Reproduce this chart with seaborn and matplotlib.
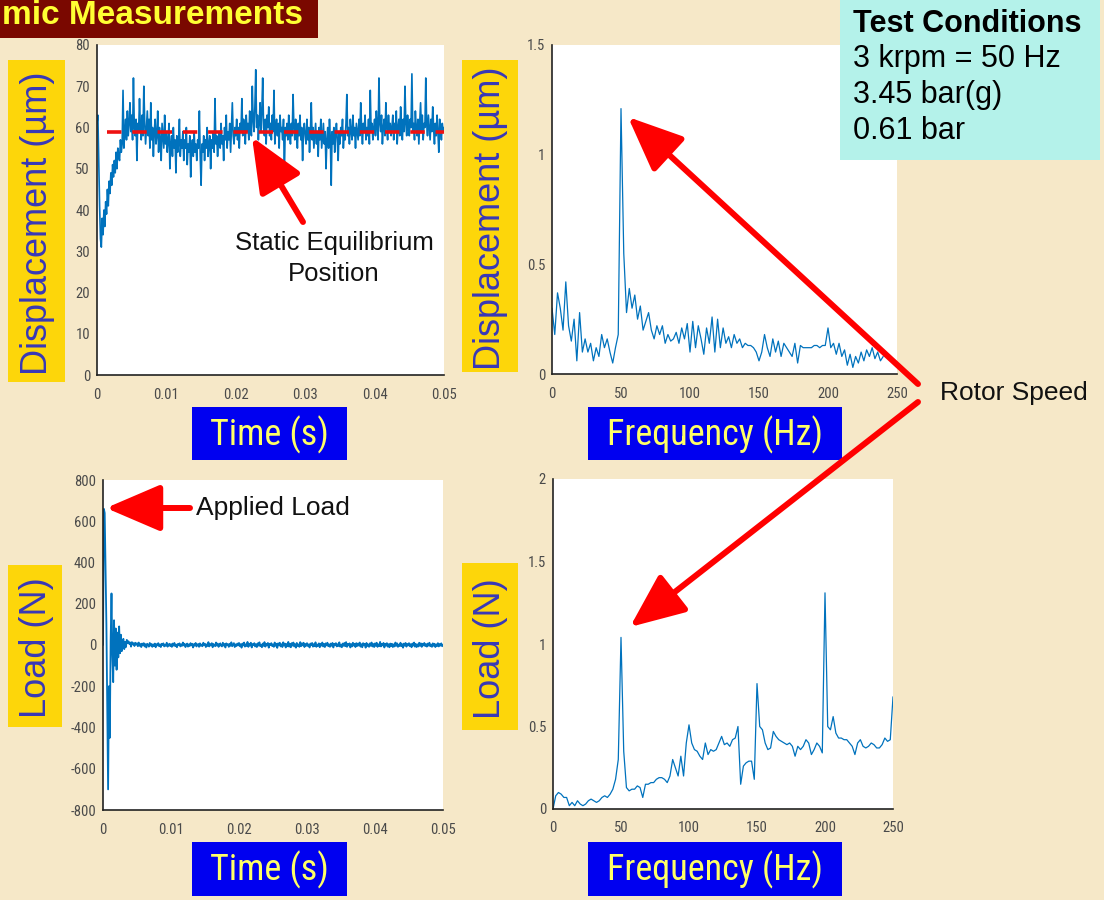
import matplotlib
matplotlib.use("Agg")
import matplotlib.pyplot as plt
import seaborn as sns
import numpy as np
from matplotlib.patches import Rectangle
from matplotlib import font_manager
from matplotlib.font_manager import FontProperties

sns.set_theme(style="white")
plt.rcParams["font.family"] = ["Liberation Sans", "DejaVu Sans"]


def _condensed_font_file():
    """Pick an installed narrow sans-serif face, if any, for the slide labels."""
    found = []
    for f in font_manager.fontManager.ttflist:
        key = (f.name + " " + f.fname).lower()
        if ("narrow" in key or "condensed" in key) and f.style == "normal" \
                and f.weight in (400, "normal", "regular", "book"):
            rank = 0 if "liberation" in key else 1 if "arial" in key else \
                2 if "roboto" in key else 3 if "open" in key else 4
            if "mono" in key or "serif" in key and "sans" not in key:
                continue
            found.append((rank, f.fname))
    found.sort()
    return found[0][1] if found else None


_NARROW_FILE = _condensed_font_file()


def narrow(size):
    if _NARROW_FILE:
        return FontProperties(fname=_NARROW_FILE, size=size)
    return FontProperties(family="Liberation Sans", size=size * 0.9)


# ---------------------------------------------------------------- data
# time base of the recorded signals (s)
dt = 0.000125
time_s = np.arange(401) * dt

# rotor displacement (µm)
displacement_um = [
    61, 63, 52, 41, 33, 31, 38, 34, 40, 36, 42, 39, 45, 41, 47, 44, 49, 46, 51, 48,
    52, 49, 54, 50, 55, 53, 52, 57, 54, 56, 69, 55, 59, 62, 57, 64, 58, 61, 66, 59,
    63, 57, 72, 60, 58, 62, 52, 61, 59, 67, 60, 57, 63, 58, 70, 61, 56, 60, 64, 58,
    62, 55, 66, 57, 60, 53, 59, 62, 56, 58, 64, 54, 60, 57, 52, 61, 58, 55, 63, 56,
    59, 54, 57, 61, 50, 56, 58, 53, 60, 55, 57, 49, 58, 54, 56, 62, 53, 57, 55, 59,
    52, 57, 55, 60, 51, 56, 54, 58, 48, 55, 57, 53, 59, 54, 56, 52, 57, 55, 64, 53,
    46, 56, 54, 58, 52, 57, 55, 60, 53, 56, 58, 50, 57, 55, 59, 54, 67, 56, 58, 53,
    57, 59, 55, 61, 56, 58, 52, 60, 57, 63, 55, 59, 57, 61, 54, 60, 66, 58, 56, 60,
    58, 62, 57, 60, 55, 61, 59, 67, 58, 62, 60, 56, 63, 59, 61, 57, 64, 60, 58, 70,
    62, 59, 65, 74, 60, 63, 57, 61, 66, 59, 64, 72, 60, 58, 62, 56, 63, 60, 65, 58,
    61, 57, 63, 59, 69, 56, 60, 62, 58, 61, 55, 63, 59, 60, 57, 62, 49, 60, 58, 61,
    57, 63, 59, 56, 61, 58, 68, 60, 57, 62, 59, 55, 61, 58, 63, 57, 60, 52, 59, 61,
    58, 56, 62, 57, 60, 54, 59, 66, 57, 60, 55, 58, 61, 56, 59, 53, 60, 57, 62, 55,
    58, 61, 56, 59, 50, 57, 60, 55, 62, 57, 46, 59, 56, 60, 54, 58, 61, 57, 52, 59,
    56, 60, 58, 62, 55, 59, 57, 61, 68, 58, 60, 56, 62, 59, 57, 63, 58, 60, 55, 61,
    59, 57, 62, 58, 66, 60, 56, 61, 59, 63, 57, 60, 58, 62, 56, 69, 59, 61, 57, 60,
    62, 58, 64, 60, 57, 72, 61, 59, 63, 56, 60, 62, 58, 66, 60, 57, 63, 59, 61, 58,
    60, 63, 57, 61, 59, 64, 56, 60, 62, 58, 65, 60, 57, 62, 59, 70, 61, 58, 63, 60,
    58, 62, 60, 73, 59, 61, 57, 64, 60, 58, 62, 56, 61, 66, 59, 63, 57, 61, 60, 72,
    61, 58, 63, 60, 57, 62, 59, 65, 60, 56, 61, 58, 63, 59, 54, 62, 60, 57, 61, 59,
    60,
]
equilibrium_um = 59

# applied load (N)
load_n = [
    0, 660, 640, 380, 100, -300, -700, -200, -450, 20, 250, -50, -180, 120, -100, 80, -120, 60, -60, 90,
    -40, 50, -30, 20, 30, -20, 15, -10, 25, 10, 18, 5, 12, -8, 14, 3, 9, -5, 11, 2,
    8, -6, 12, -4, 5, -10, 7, -2, 9, -7, 4, -12, 6, 1, -8, 10, -3, 5, -9, 3,
    -5, 7, -11, 4, -2, 9, -6, 3, -10, 6, -1, 8, -7, 2, -4, 11, -8, 0, 6, -5,
    4, -9, 7, -3, 10, -6, 2, -11, 5, -1, 8, -7, 3, -4, 12, -2, 6, -10, 1, 7,
    -8, 3, -5, 9, -2, 6, -12, 4, -3, 10, -7, 1, 5, -9, 8, -4, 2, -6, 11, -1,
    6, -10, 3, -5, 14, -7, 4, -2, 9, -11, 5, 0, -6, 12, -3, 7, -9, 2, 8, -4,
    -7, 11, -3, 5, -12, 8, -1, 4, -9, 6, -4, 13, -6, 2, 9, -10, 3, -5, 7, -2,
    10, -6, 4, -13, 7, -2, 12, -8, 3, -5, 15, -9, 6, -3, 11, -12, 5, -1, 9, -7,
    4, -10, 8, -3, 13, -6, 2, -11, 7, -4, 14, -8, 5, -2, 10, -13, 6, -1, 9, -5,
    3, -9, 12, -4, 6, -14, 8, -2, 11, -7, 4, -10, 13, -3, 7, -12, 5, -6, 15, -8,
    6, -11, 9, -3, 12, -7, 4, -13, 10, -5, 3, -9, 14, -6, 8, -2, 11, -10, 5, -4,
    9, -5, 3, -12, 7, -1, 10, -8, 4, -6, 13, -9, 2, -4, 8, -11, 6, -3, 12, -7,
    5, -10, 8, -2, 11, -6, 3, -9, 7, -4, 10, -12, 6, -1, 9, -7, 4, -5, 13, -8,
    2, -11, 7, -4, 10, -6, 14, -9, 5, -2, 8, -12, 4, -7, 11, -3, 6, -10, 9, -5,
    7, -3, 12, -8, 4, -11, 9, -2, 6, -13, 10, -5, 3, -9, 8, -4, 12, -7, 5, -10,
    8, -4, 11, -9, 3, -6, 15, -7, 5, -2, 10, -12, 6, -3, 9, -8, 4, -11, 7, -5,
    6, -10, 3, -7, 12, -4, 8, -9, 2, -5, 11, -6, 4, -13, 7, -3, 10, -8, 5, -2,
    9, -6, 4, -11, 7, -3, 12, -8, 5, -10, 3, -7, 11, -4, 8, -9, 6, -2, 10, -5,
    4, -8, 7, -3, 11, -6, 2, -9, 8, -4, 6, -10, 3, -5, 9, -7, 5, -3, 8, -6,
    0,
]

# displacement amplitude spectrum (µm), 2 Hz bins 0-240 Hz
disp_freq_hz = np.arange(0, 242, 2)
disp_amp_um = [
    0.30, 0.18, 0.37, 0.30, 0.20, 0.42, 0.22, 0.15, 0.25, 0.06,
    0.28, 0.10, 0.16, 0.10, 0.14, 0.06, 0.12, 0.08, 0.18, 0.12,
    0.16, 0.10, 0.05, 0.12, 0.18, 1.21, 0.55, 0.28, 0.39, 0.30,
    0.36, 0.25, 0.31, 0.20, 0.24, 0.28, 0.20, 0.16, 0.22, 0.18,
    0.22, 0.14, 0.18, 0.15, 0.16, 0.19, 0.14, 0.21, 0.16, 0.23,
    0.10, 0.24, 0.12, 0.22, 0.16, 0.09, 0.21, 0.14, 0.26, 0.10,
    0.25, 0.12, 0.21, 0.14, 0.17, 0.12, 0.18, 0.14, 0.16, 0.12,
    0.14, 0.13, 0.13, 0.12, 0.10, 0.06, 0.10, 0.18, 0.12, 0.08,
    0.16, 0.10, 0.15, 0.08, 0.14, 0.12, 0.10, 0.08, 0.14, 0.05,
    0.13, 0.12, 0.12, 0.12, 0.12, 0.13, 0.13, 0.12, 0.13, 0.13,
    0.21, 0.12, 0.14, 0.09, 0.14, 0.08, 0.11, 0.04, 0.09, 0.03,
    0.08, 0.05, 0.10, 0.06, 0.11, 0.08, 0.12, 0.07, 0.10, 0.06,
    0.08,
]

# load amplitude spectrum (N), 2 Hz bins 0-250 Hz
load_freq_hz = np.arange(0, 252, 2)
load_amp_n = [
    0.00, 0.08, 0.10, 0.09, 0.07, 0.07, 0.02, 0.04, 0.02, 0.05,
    0.03, 0.02, 0.03, 0.05, 0.06, 0.05, 0.04, 0.05, 0.07, 0.08,
    0.07, 0.09, 0.12, 0.18, 0.30, 1.04, 0.35, 0.13, 0.11, 0.12,
    0.12, 0.14, 0.13, 0.07, 0.15, 0.15, 0.16, 0.16, 0.18, 0.19,
    0.19, 0.18, 0.16, 0.20, 0.30, 0.25, 0.20, 0.32, 0.20, 0.40,
    0.51, 0.40, 0.36, 0.35, 0.32, 0.30, 0.40, 0.33, 0.36, 0.35,
    0.36, 0.40, 0.44, 0.39, 0.40, 0.38, 0.42, 0.43, 0.50, 0.15,
    0.26, 0.28, 0.29, 0.29, 0.18, 0.76, 0.50, 0.48, 0.40, 0.36,
    0.37, 0.47, 0.44, 0.42, 0.41, 0.40, 0.39, 0.40, 0.38, 0.32,
    0.38, 0.36, 0.38, 0.42, 0.40, 0.33, 0.36, 0.40, 0.38, 0.34,
    1.31, 0.50, 0.48, 0.56, 0.46, 0.43, 0.43, 0.42, 0.42, 0.40,
    0.38, 0.33, 0.40, 0.42, 0.38, 0.37, 0.38, 0.40, 0.39, 0.37,
    0.37, 0.39, 0.43, 0.41, 0.42, 0.68,
]

time_ticks = [0, 0.01, 0.02, 0.03, 0.04, 0.05]
time_ticklabels = ["0", "0.01", "0.02", "0.03", "0.04", "0.05"]
freq_ticks = [0, 50, 100, 150, 200, 250]
freq_ticklabels = ["0", "50", "100", "150", "200", "250"]

# ---------------------------------------------------------------- style
W, H = 1104, 900
BG = "#f6e8c8"
TRACE = "#0072bd"
YELLOW_BOX = "#fdd60a"
YELLOW_TXT = "#3838b8"
BLUE_BOX = "#0000f0"
BLUE_TXT = "#ffff66"

fig = plt.figure(figsize=(W / 100, H / 100), dpi=100, facecolor=BG)


def px_rect(left, top, right, bottom):
    return [left / W, 1 - bottom / H, (right - left) / W, (bottom - top) / H]


def style_axes(ax, xlim, ylim, xticks, xlabels, yticks, ylabels):
    ax.set_facecolor("white")
    ax.set_xlim(*xlim)
    ax.set_ylim(*ylim)
    for side in ("top", "right"):
        ax.spines[side].set_visible(False)
    for side in ("left", "bottom"):
        ax.spines[side].set_color("#222222")
        ax.spines[side].set_linewidth(1.2)
    ax.set_xticks(xticks)
    ax.set_xticklabels(xlabels, fontproperties=narrow(10.5), color="#4a4a4a")
    ax.set_yticks(yticks)
    ax.set_yticklabels(ylabels, fontproperties=narrow(10.5), color="#4a4a4a")
    ax.tick_params(direction="in", length=3, width=1, colors="#222222",
                   labelcolor="#4a4a4a")
    ax.tick_params(axis="x", pad=9)
    ax.tick_params(axis="y", pad=5)
    ax.set_xlabel("")
    ax.set_ylabel("")


# displacement vs time
ax1 = fig.add_axes(px_rect(97, 45, 444, 375))
sns.lineplot(x=time_s, y=displacement_um, ax=ax1, color=TRACE, linewidth=1.2,
             estimator=None)
ax1.hlines(equilibrium_um, 0.0015, 0.05, colors="#ee1111", linestyles=(0, (4, 3)),
           linewidth=2.6, zorder=5)
style_axes(ax1, (0, 0.05), (0, 80), time_ticks, time_ticklabels,
           list(range(0, 90, 10)), [str(v) for v in range(0, 90, 10)])

# displacement spectrum
ax2 = fig.add_axes(px_rect(552, 45, 897, 374))
sns.lineplot(x=disp_freq_hz, y=disp_amp_um, ax=ax2, color=TRACE, linewidth=0.9,
             estimator=None)
style_axes(ax2, (0, 250), (0, 1.5), freq_ticks, freq_ticklabels,
           [0, 0.5, 1, 1.5], ["0", "0.5", "1", "1.5"])

# load vs time
ax3 = fig.add_axes(px_rect(103, 480, 443, 810))
sns.lineplot(x=time_s, y=load_n, ax=ax3, color=TRACE, linewidth=1.3, estimator=None)
style_axes(ax3, (0, 0.05), (-800, 800), time_ticks, time_ticklabels,
           list(range(-800, 1000, 200)), [str(v) for v in range(-800, 1000, 200)])

# load spectrum
ax4 = fig.add_axes(px_rect(553, 479, 893, 809))
sns.lineplot(x=load_freq_hz, y=load_amp_n, ax=ax4, color=TRACE, linewidth=0.9,
             estimator=None)
style_axes(ax4, (0, 250), (0, 2), freq_ticks, freq_ticklabels,
           [0, 0.5, 1, 1.5, 2], ["0", "0.5", "1", "1.5", "2"])

# ---------------------------------------------------------------- slide overlay
ov = fig.add_axes([0, 0, 1, 1], zorder=20)
ov.set_xlim(0, W)
ov.set_ylim(H, 0)
ov.axis("off")
ov.patch.set_alpha(0)


def box(x0, y0, x1, y1, color):
    ov.add_patch(Rectangle((x0, y0), x1 - x0, y1 - y0, facecolor=color,
                           edgecolor="none"))


# title bar
box(0, 0, 318, 38, "#7a0800")
ov.text(2, 15, "mic Measurements", fontsize=24, fontweight="bold", color="#ffff33",
        va="center", ha="left")

# axis labels
for (x0, y0, x1, y1, txt) in [(8, 60, 65, 382, "Displacement (µm)"),
                              (462, 60, 518, 372, "Displacement (µm)"),
                              (8, 565, 62, 727, "Load (N)"),
                              (462, 563, 518, 730, "Load (N)")]:
    box(x0, y0, x1, y1, YELLOW_BOX)
    ov.text((x0 + x1) / 2 + 1, (y0 + y1) / 2 + 2, txt, rotation=90, fontsize=26,
            color=YELLOW_TXT, ha="center", va="center")

for (x0, y0, x1, y1, txt) in [(192, 407, 347, 460, "Time (s)"),
                              (588, 407, 842, 460, "Frequency (Hz)"),
                              (192, 842, 347, 896, "Time (s)"),
                              (588, 842, 842, 896, "Frequency (Hz)")]:
    box(x0, y0, x1, y1, BLUE_BOX)
    ov.text((x0 + x1) / 2, (y0 + y1) / 2 + 1, txt, fontproperties=narrow(26),
            color=BLUE_TXT, ha="center", va="center")

# test conditions
box(840, 0, 1100, 160, "#b4f2ea")
ov.text(853, 24, "Test Conditions", fontsize=22, fontweight="bold", color="black",
        va="center")
for y, txt in [(59, "3 krpm = 50 Hz"), (95, "3.45 bar(g)"), (131, "0.61 bar")]:
    ov.text(853, y, txt, fontsize=22, color="black", va="center")

# callouts
arrow = dict(arrowstyle="-|>,head_length=1.4,head_width=0.6", color="#ff0000",
             lw=4.3, mutation_scale=24, shrinkA=0, shrinkB=0)
ov.annotate("", xy=(252, 137), xytext=(303, 222), arrowprops=arrow)
ov.text(334, 243, "Static Equilibrium", fontsize=18.5, ha="center", va="center",
        color="#111111")
ov.text(334, 274, "Position", fontsize=18.5, ha="center", va="center",
        color="#111111")

ov.annotate("", xy=(106, 508), xytext=(190, 508), arrowprops=arrow)
ov.text(196, 508, "Applied Load", fontsize=19, ha="left", va="center",
        color="#111111")

ov.annotate("", xy=(628, 117), xytext=(918, 384), arrowprops=arrow)
ov.annotate("", xy=(630, 627), xytext=(918, 402), arrowprops=arrow)
ov.text(940, 393, "Rotor Speed", fontsize=19, ha="left", va="center",
        color="#111111")

fig.savefig("out.png", dpi=100, facecolor=BG)
